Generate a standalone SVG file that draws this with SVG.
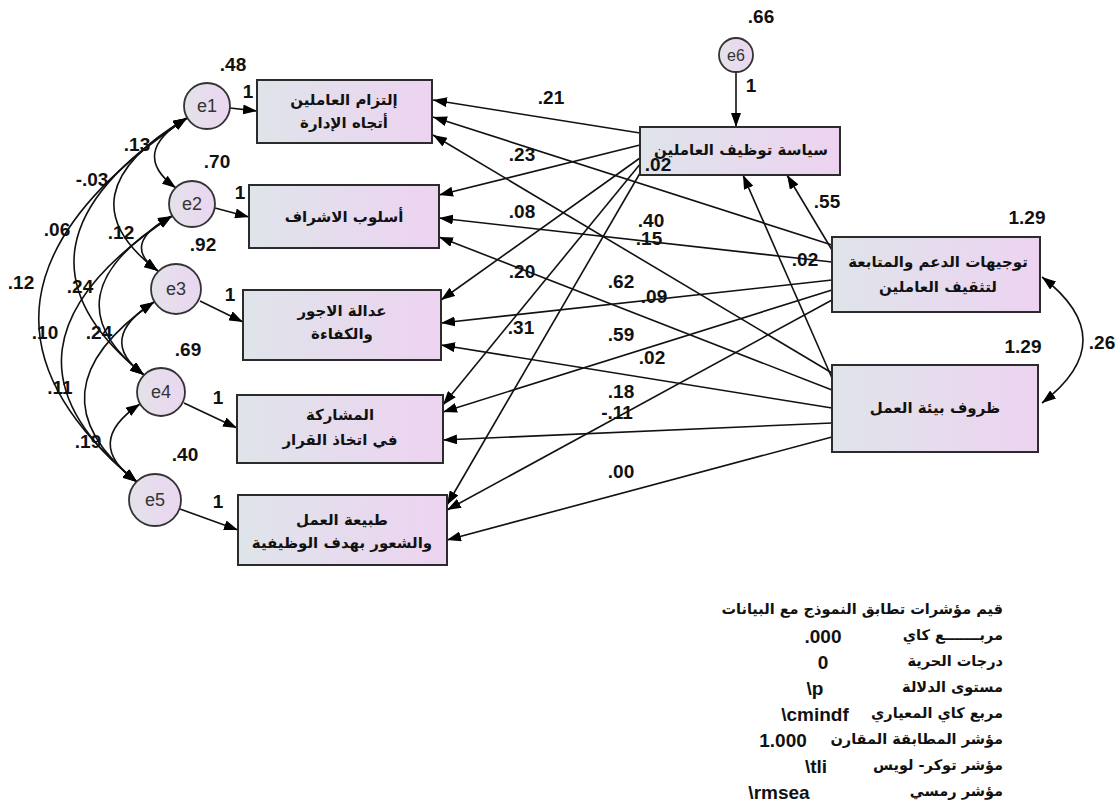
<svg xmlns="http://www.w3.org/2000/svg" width="1119" height="805" viewBox="0 0 1119 805">
<defs>
<linearGradient id="boxg" x1="0" y1="0" x2="1" y2="0">
<stop offset="0" stop-color="#dfe4ea"/>
<stop offset="1" stop-color="#edd3f1"/>
</linearGradient>
<linearGradient id="circg" x1="0" y1="0" x2="1" y2="0">
<stop offset="0" stop-color="#e4e2ea"/>
<stop offset="1" stop-color="#ead6f0"/>
</linearGradient>
<marker id="ah" markerUnits="userSpaceOnUse" markerWidth="14" markerHeight="10" refX="14" refY="5" orient="auto-start-reverse" viewBox="0 0 14 10">
<path d="M0,0 L14,5 L0,10 z" fill="#000"/>
</marker>
<style>
.box{fill:url(#boxg);stroke:#2b2b2b;stroke-width:2}
.err{fill:url(#circg);stroke:#333;stroke-width:1.8}
.lbl{font-family:"DejaVu Sans",sans-serif;font-weight:bold;font-size:15px;fill:#111;text-anchor:middle}
.num{font-family:"Liberation Sans",Arial,sans-serif;font-weight:bold;font-size:19px;fill:#111;text-anchor:middle;direction:ltr;unicode-bidi:bidi-override}
.et{font-family:"Liberation Sans",Arial,sans-serif;font-size:18px;fill:#333;text-anchor:middle;direction:ltr;unicode-bidi:bidi-override}
.fit{font-family:"DejaVu Sans",sans-serif;font-weight:bold;font-size:14.5px;fill:#111;text-anchor:end}
.fv{font-family:"Liberation Sans",Arial,sans-serif;font-weight:bold;font-size:19px;fill:#111;text-anchor:middle;direction:ltr;unicode-bidi:bidi-override}
.c{fill:none;stroke:#111;stroke-width:1.6;marker-end:url(#ah)}
.cv{fill:none;stroke:#111;stroke-width:1.6;marker-start:url(#ah);marker-end:url(#ah)}
</style>
</defs>
<rect width="1119" height="805" fill="#fff"/>

<g id="connectors">
<line class="c" x1="230" y1="108" x2="257" y2="111"/>
<line class="c" x1="215" y1="208" x2="249" y2="217"/>
<line class="c" x1="200" y1="301" x2="243" y2="322"/>
<line class="c" x1="184" y1="403" x2="237" y2="428"/>
<line class="c" x1="180" y1="509" x2="238" y2="530"/>
<line class="c" x1="736" y1="72" x2="736" y2="127"/>
<line class="c" x1="640" y1="133" x2="433" y2="100"/>
<line class="c" x1="640" y1="145" x2="439" y2="195"/>
<line class="c" x1="640" y1="158" x2="441" y2="300"/>
<line class="c" x1="641" y1="163" x2="443" y2="405"/>
<line class="c" x1="643" y1="168" x2="447" y2="505"/>
<line class="c" x1="832" y1="250" x2="787" y2="175"/>
<line class="c" x1="832" y1="245" x2="433" y2="117"/>
<line class="c" x1="832" y1="262" x2="439" y2="218"/>
<line class="c" x1="832" y1="280" x2="441" y2="323"/>
<line class="c" x1="832" y1="290" x2="443" y2="412"/>
<line class="c" x1="832" y1="300" x2="447" y2="510"/>
<line class="c" x1="832" y1="378" x2="743" y2="175"/>
<line class="c" x1="832" y1="373" x2="433" y2="135"/>
<line class="c" x1="832" y1="390" x2="439" y2="237"/>
<line class="c" x1="832" y1="408" x2="441" y2="345"/>
<line class="c" x1="832" y1="423" x2="443" y2="440"/>
<line class="c" x1="832" y1="437" x2="447" y2="540"/>
<path class="cv" d="M1042,277 Q1124,340 1042,403"/>
<path class="cv" d="M187,118 Q128,153 176,188"/>
<path class="cv" d="M187,118 Q57,195 158,271"/>
<path class="cv" d="M187,118 Q-15,247 144,375"/>
<path class="cv" d="M187,118 Q-82,300 137,482"/>
<path class="cv" d="M172,216 Q119,244 158,271"/>
<path class="cv" d="M172,216 Q42,296 144,375"/>
<path class="cv" d="M172,216 Q-30,349 137,482"/>
<path class="cv" d="M154,302 Q95,339 144,375"/>
<path class="cv" d="M154,302 Q24,392 137,482"/>
<path class="cv" d="M140,404 Q82,443 137,482"/>
</g>

<g id="e1"><circle class="err" cx="207" cy="106" r="23"/><text class="et" x="207" y="112">e1</text></g>
<g id="e2"><circle class="err" cx="192" cy="204" r="23"/><text class="et" x="192" y="210">e2</text></g>
<g id="e3"><circle class="err" cx="176" cy="289" r="25"/><text class="et" x="176" y="295">e3</text></g>
<g id="e4"><circle class="err" cx="161" cy="392" r="24"/><text class="et" x="161" y="398">e4</text></g>
<g id="e5"><circle class="err" cx="155" cy="500" r="26"/><text class="et" x="155" y="506">e5</text></g>
<g id="e6"><circle class="err" cx="736" cy="55" r="17"/><text class="et" x="736" y="61" style="font-size:16px">e6</text></g>

<g id="b1"><rect class="box" x="257" y="80" width="175" height="63"/>
<text class="lbl" x="344" y="105">إلتزام العاملين</text><text class="lbl" x="344" y="128">أتجاه الإدارة</text></g>
<g id="b2"><rect class="box" x="249" y="185" width="190" height="63"/>
<text class="lbl" x="344" y="222">أسلوب الاشراف</text></g>
<g id="b3"><rect class="box" x="243" y="290" width="198" height="70"/>
<text class="lbl" x="342" y="316">عدالة الاجور</text><text class="lbl" x="342" y="339">والكفاءة</text></g>
<g id="b4"><rect class="box" x="237" y="395" width="206" height="68"/>
<text class="lbl" x="340" y="420">المشاركة</text><text class="lbl" x="340" y="445">في اتخاذ القرار</text></g>
<g id="b5"><rect class="box" x="238" y="495" width="209" height="70"/>
<text class="lbl" x="342" y="525">طبيعة العمل</text><text class="lbl" x="342" y="548">والشعور بهدف الوظيفية</text></g>
<g id="policy"><rect class="box" x="640" y="127" width="200" height="48"/>
<text class="lbl" x="741" y="155">سياسة توظيف العاملين</text></g>
<g id="support"><rect class="box" x="832" y="237" width="208" height="75"/>
<text class="lbl" x="938" y="267">توجيهات الدعم والمتابعة</text><text class="lbl" x="938" y="292">لتثقيف العاملين</text></g>
<g id="environment"><rect class="box" x="832" y="365" width="206" height="87"/>
<text class="lbl" x="935" y="413">ظروف بيئة العمل</text></g>

<g id="labels">
<text class="num" x="233" y="71">.48</text>
<text class="num" x="217" y="168">.70</text>
<text class="num" x="203" y="251">.92</text>
<text class="num" x="188" y="356">.69</text>
<text class="num" x="185" y="461">.40</text>
<text class="num" x="248" y="98">1</text>
<text class="num" x="240" y="199">1</text>
<text class="num" x="230" y="301">1</text>
<text class="num" x="218" y="404">1</text>
<text class="num" x="218" y="508">1</text>
<text class="num" x="761" y="23">.66</text>
<text class="num" x="751" y="92">1</text>
<text class="num" x="1027" y="224">1.29</text>
<text class="num" x="1023" y="353">1.29</text>
<text class="num" x="1102" y="349">.26</text>
<text class="num" x="137" y="151">.13</text>
<text class="num" x="92" y="186">-.03</text>
<text class="num" x="57" y="236">.06</text>
<text class="num" x="21" y="289">.12</text>
<text class="num" x="121" y="239">.12</text>
<text class="num" x="80" y="293">.24</text>
<text class="num" x="45" y="339">.10</text>
<text class="num" x="99" y="339">.24</text>
<text class="num" x="60" y="394">.11</text>
<text class="num" x="88" y="448">.19</text>
<text class="num" x="551" y="104">.21</text>
<text class="num" x="522" y="161">.23</text>
<text class="num" x="658" y="171">.02</text>
<text class="num" x="522" y="218">.08</text>
<text class="num" x="651" y="227">.40</text>
<text class="num" x="649" y="245">.15</text>
<text class="num" x="827" y="208">.55</text>
<text class="num" x="805" y="266">.02</text>
<text class="num" x="522" y="278">.20</text>
<text class="num" x="621" y="288">.62</text>
<text class="num" x="654" y="303">.09</text>
<text class="num" x="521" y="334">.31</text>
<text class="num" x="621" y="341">.59</text>
<text class="num" x="652" y="364">.02</text>
<text class="num" x="621" y="398">.18</text>
<text class="num" x="617" y="419">-.11</text>
<text class="num" x="621" y="478">.00</text>
</g>

<g id="fit">
<text class="fit" x="1003" y="614">قيم مؤشرات تطابق النموذج مع البيانات</text>
<text class="fit" x="1003" y="640">مربـــــــع كاي</text><text class="fv" x="823" y="643">.000</text>
<text class="fit" x="1003" y="666">درجات الحرية</text><text class="fv" x="823" y="669">0</text>
<text class="fit" x="1003" y="692">مستوى الدلالة</text><text class="fv" x="815" y="695">\p</text>
<text class="fit" x="1003" y="718">مربع كاي المعياري</text><text class="fv" x="815" y="721">\cmindf</text>
<text class="fit" x="1003" y="744">مؤشر المطابقة المقارن</text><text class="fv" x="783" y="747">1.000</text>
<text class="fit" x="1003" y="770">مؤشر توكر- لويس</text><text class="fv" x="816" y="773">\tli</text>
<text class="fit" x="1003" y="796">مؤشر رمسي</text><text class="fv" x="779" y="799">\rmsea</text>
</g>
</svg>
